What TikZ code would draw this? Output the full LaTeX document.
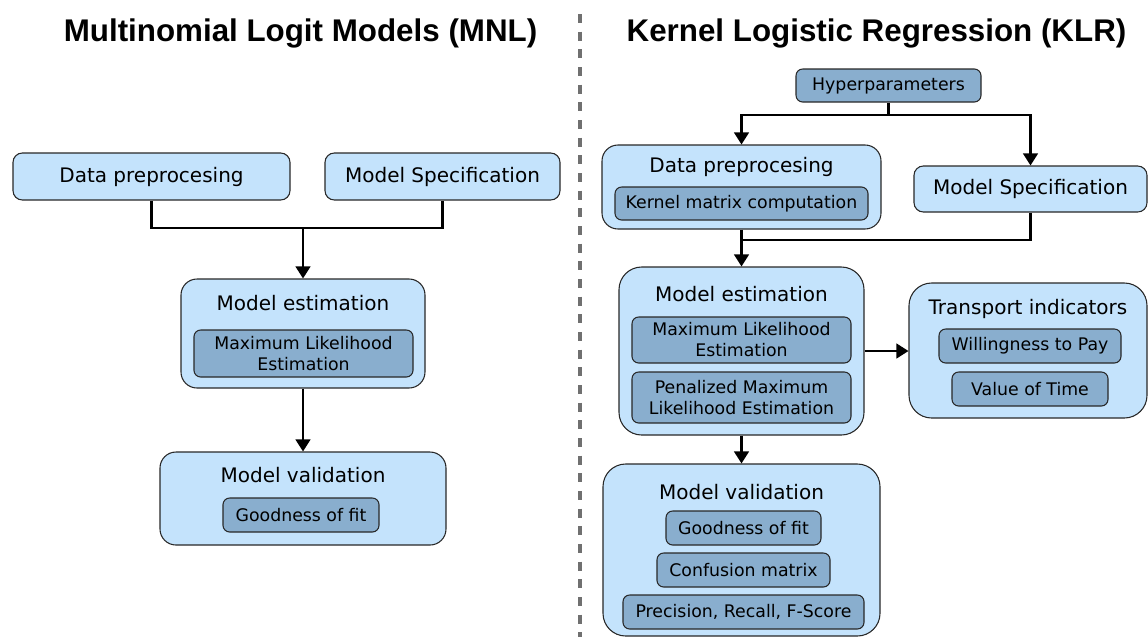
\documentclass[tikz,border=0pt]{standalone}
\usepackage{fontspec}
\setmainfont{DejaVu Sans}
\newfontfamily\headfont{Liberation Sans}
\usetikzlibrary{arrows.meta}
\definecolor{outerfill}{RGB}{196,227,252}
\definecolor{innerfill}{RGB}{137,174,206}
\definecolor{edgecol}{RGB}{40,40,40}
\definecolor{sepcol}{RGB}{112,112,112}
\begin{document}
\begin{tikzpicture}[x=0.75pt,y=-0.75pt,
  outer/.style={draw=edgecol, fill=outerfill, line width=0.8pt, rounded corners=#1, inner sep=0pt, align=center,
    font=\fontsize{15}{18}\selectfont},
  outer/.default=7pt,
  inner/.style={draw=edgecol, fill=innerfill, line width=0.8pt, rounded corners=5pt, inner sep=0pt, align=center,
    font=\fontsize{13}{15.75}\selectfont},
  boxtitle/.style={inner sep=0pt, font=\fontsize{15}{18}\selectfont},
  headtitle/.style={inner sep=0pt, font=\headfont\bfseries\fontsize{23.5}{28}\selectfont},
  conn/.style={line width=1.6pt, black},
  arr/.style={conn, -{Triangle[length=9pt,width=11pt]}},
  sep/.style={draw=sepcol, line width=3pt, dash pattern=on 6.75pt off 6.5pt}
]
\useasboundingbox (0,0) rectangle (1148,637);

% titles
\node[headtitle] (tl) at (300.5,33) {Multinomial Logit Models (MNL)};
\node[headtitle] (tr) at (876.5,33) {Kernel Logistic Regression (KLR)};

% separator
\coordinate (stop) at (580,14);
\coordinate (sbot) at (580,637);
\draw[sep] (stop) -- (sbot);

% ---------------- left ----------------
\node[outer, minimum width=207.75pt, minimum height=35.25pt] (lDP) at (151.5,176.5) {Data preprocesing};
\node[outer, minimum width=176.25pt, minimum height=35.25pt] (lMS) at (442.5,176.5) {Model Specification};

\node[outer=12pt, minimum width=183pt, minimum height=81.75pt] (lME) at (303,333.5) {};
\node[boxtitle] (lMEt) at (303,303) {Model estimation};
\node[inner, minimum width=164.25pt, minimum height=35.25pt] (lMLE) at (303.5,353.5) {Maximum Likelihood\\Estimation};

\node[outer=12pt, minimum width=214.5pt, minimum height=69.75pt] (lMV) at (303,498.5) {};
\node[boxtitle] (lMVt) at (303,475) {Model validation};
\node[inner, minimum width=117pt, minimum height=25.5pt] (lGoF) at (301,515) {Goodness of fit};

\coordinate (ljn) at (303,228);
\draw[conn] (lDP.south) |- (ljn) -| (lMS.south);
\draw[arr] (ljn) -- (lME.north);
\draw[arr] (lME.south) -- (lMV.north);

% ---------------- right ----------------
\node[inner, minimum width=138.75pt, minimum height=24.75pt] (H) at (888.5,85.5) {Hyperparameters};

\node[outer=12pt, minimum width=209.25pt, minimum height=63pt] (rDP) at (741.5,187) {};
\node[boxtitle] (rDPt) at (741.5,167) {Data preprocesing};
\node[inner, minimum width=189.75pt, minimum height=24.75pt] (KMC) at (741.5,203.5) {Kernel matrix computation};

\node[outer, minimum width=174.75pt, minimum height=34.5pt] (rMS) at (1030.5,189) {Model Specification};

\node[outer=17pt, minimum width=183.75pt, minimum height=126pt] (rME) at (741.5,351) {};
\node[boxtitle] (rMEt) at (741.5,294) {Model estimation};
\node[inner, minimum width=164.25pt, minimum height=34.5pt] (MLE) at (741.5,340) {Maximum Likelihood\\Estimation};
\node[inner, minimum width=164.25pt, minimum height=38.25pt] (PMLE) at (741.5,397.5) {Penalized Maximum\\Likelihood Estimation};

\node[outer=17pt, minimum width=178.5pt, minimum height=101.25pt] (TI) at (1028,350.5) {};
\node[boxtitle] (TIt) at (1028,309) {Transport indicators};
\node[inner, minimum width=136.5pt, minimum height=25.5pt] (WtP) at (1030,346) {Willingness to Pay};
\node[inner, minimum width=117pt, minimum height=25.5pt] (VoT) at (1030,389) {Value of Time};

\node[outer=17pt, minimum width=207.75pt, minimum height=129pt] (rMV) at (741.5,550) {};
\node[boxtitle] (rMVt) at (741.5,492) {Model validation};
\node[inner, minimum width=116.25pt, minimum height=25.5pt] (GoF) at (743.5,528) {Goodness of fit};
\node[inner, minimum width=129.75pt, minimum height=25.5pt] (CM) at (743.5,570) {Confusion matrix};
\node[inner, minimum width=180.75pt, minimum height=25.5pt] (PRF) at (743.5,612) {Precision, Recall, F-Score};

\coordinate (jt) at (888.5,115);
\draw[conn] (H.south) -- (jt);
\draw[arr] (jt) -| (rDP.north);
\draw[arr] (jt) -| (rMS.north);

\coordinate (jm) at (741.5,240);
\draw[conn] (rDP.south) -- (jm);
\draw[conn] (rMS.south) |- (jm);
\draw[arr] (jm) -- (rME.north);

\draw[arr] (rME.east) -- (rME.east -| TI.west);
\draw[arr] (rME.south) -- (rMV.north);
\end{tikzpicture}
\end{document}
